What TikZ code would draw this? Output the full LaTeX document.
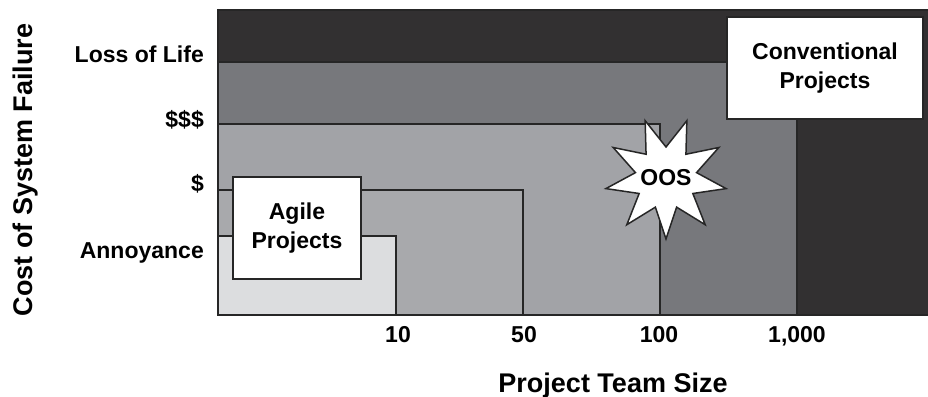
\documentclass[tikz,border=0pt]{standalone}
\usepackage{fontspec}
\setmainfont{Liberation Sans}
\definecolor{lifegray}{HTML}{323031}
\definecolor{bigcost}{HTML}{77787C}
\definecolor{midcost}{HTML}{A2A3A7}
\definecolor{smallcost}{HTML}{A8A9AC}
\definecolor{annoygray}{HTML}{DCDDDF}
\begin{document}
\begin{tikzpicture}[
        x=1pt, y=-1pt,
        band/.style={draw=black!85, line width=1.2pt},
        box/.style={draw=black!85, fill=white, line width=1.5pt, align=center, inner sep=0pt,
            font=\fontsize{23}{28.5}\selectfont\bfseries},
        lbl/.style={inner sep=0pt, font=\fontsize{23}{28}\selectfont\bfseries},
        axtitle/.style={inner sep=0pt, font=\fontsize{27}{32}\selectfont\bfseries},
    ]
    \useasboundingbox (0,0) rectangle (928,396);
    \draw[band, fill=lifegray] (218,10) rectangle (929,315);
    \draw[band, fill=bigcost] (218,62) rectangle (797,315);
    \draw[band, fill=midcost] (218,124) rectangle (660,315);
    \draw[band, fill=smallcost] (218,190) rectangle (523,315);
    \draw[band, fill=annoygray] (218,236) rectangle (396,315);
    \draw[line width=1.5pt, black!85] (218,9) -- (218,315);

    \node[box, minimum width=128pt, minimum height=102pt](agile) at (297,228) {Agile\\Projects};
    \node[box, minimum width=196pt, minimum height=102pt](conv) at (825,68) {Conventional\\Projects};

    \coordinate (oosc) at (666,178);
    \draw[shift={(oosc)}, draw=black!85, fill=white, line width=1.5pt, line join=miter]
        (10:61) \foreach \a in {10,50,...,330} {-- (\a:61) -- (\a+20:31)} -- cycle;
    \node[lbl](oos) at (oosc) {OOS};

    \node[lbl, anchor=base east](life) at (204,63) {Loss of Life};
    \node[lbl, anchor=base east](dollar3) at (204,127) {\$\$\$};
    \node[lbl, anchor=base east](dollar1) at (204,191) {\$};
    \node[lbl, anchor=base east](annoy) at (204,258) {Annoyance};

    \node[lbl, anchor=base](ten) at (398,342) {10};
    \node[lbl, anchor=base](fifty) at (524,342) {50};
    \node[lbl, anchor=base](hundred) at (659,342) {100};
    \node[lbl, anchor=base](thousand) at (797,342) {1,000};

    \node[axtitle, anchor=base](xtitle) at (613,392) {Project Team Size};
    \node[axtitle, anchor=base, rotate=90](ytitle) at (32,170) {Cost of System Failure};
\end{tikzpicture}
\end{document}
